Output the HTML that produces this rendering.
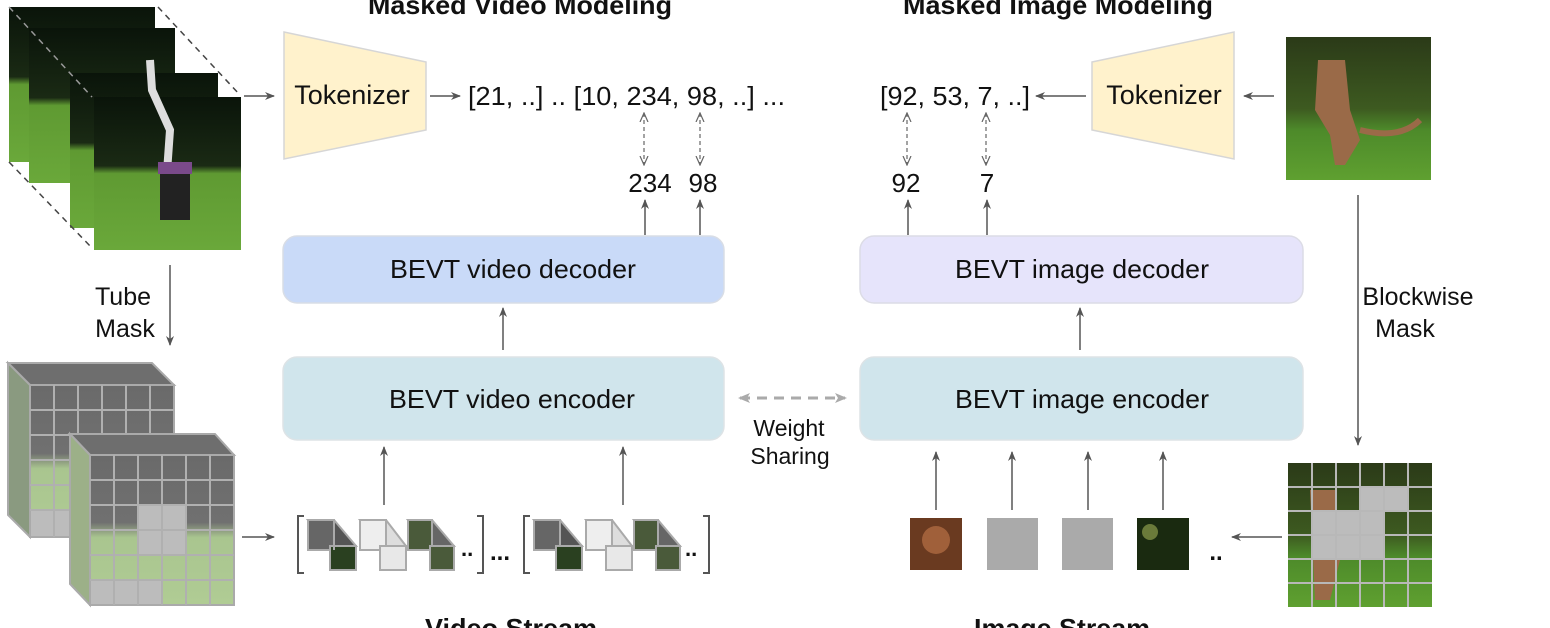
<!DOCTYPE html>
<html><head><meta charset="utf-8"><style>
html,body{margin:0;padding:0;background:#fff;}
svg{display:block;}
text{font-family:"Liberation Sans",Arial,sans-serif;fill:#111;}
</style></head><body>
<svg width="1550" height="628" viewBox="0 0 1550 628" xmlns="http://www.w3.org/2000/svg">
<defs>
<marker id="ah" markerWidth="10" markerHeight="10" refX="9" refY="5" orient="auto" markerUnits="userSpaceOnUse"><path d="M0,1 L10,5 L0,9 L3,5 z" fill="#555"/></marker>
<marker id="ahg" markerWidth="12" markerHeight="12" refX="10" refY="6" orient="auto-start-reverse" markerUnits="userSpaceOnUse"><path d="M0,1 L12,6 L0,11 L3,6 z" fill="#aaa"/></marker>
<marker id="ahs" markerWidth="10" markerHeight="10" refX="9" refY="5" orient="auto-start-reverse" markerUnits="userSpaceOnUse"><path d="M0,1 L9,5 L0,9" fill="none" stroke="#666" stroke-width="1.2"/></marker>
<linearGradient id="ph" x1="0" y1="0" x2="0" y2="1"><stop offset="0" stop-color="#0a140a"/><stop offset="0.45" stop-color="#1a2a14"/><stop offset="0.5" stop-color="#5f9a32"/><stop offset="1" stop-color="#6aa83a"/></linearGradient>
<linearGradient id="phm" x1="0" y1="0" x2="0" y2="1"><stop offset="0" stop-color="#6a6a6a"/><stop offset="0.45" stop-color="#707070"/><stop offset="0.55" stop-color="#a9c58f"/><stop offset="1" stop-color="#b0cc94"/></linearGradient>
<linearGradient id="cat" x1="0" y1="0" x2="0" y2="1"><stop offset="0" stop-color="#2b3a18"/><stop offset="0.5" stop-color="#3d5a20"/><stop offset="0.65" stop-color="#4d8a2a"/><stop offset="1" stop-color="#5fa030"/></linearGradient>
</defs>

<!-- titles -->
<text x="520" y="14" font-size="26" font-weight="bold" text-anchor="middle" textLength="304" lengthAdjust="spacingAndGlyphs">Masked Video Modeling</text>
<text x="1058" y="14" font-size="26" font-weight="bold" text-anchor="middle" textLength="310" lengthAdjust="spacingAndGlyphs">Masked Image Modeling</text>
<text x="511" y="637" font-size="26" font-weight="bold" text-anchor="middle" textLength="172" lengthAdjust="spacingAndGlyphs">Video Stream</text>
<text x="1062" y="637" font-size="26" font-weight="bold" text-anchor="middle" textLength="176" lengthAdjust="spacingAndGlyphs">Image Stream</text>

<!-- video frames -->
<rect x="9" y="7" width="146" height="155" fill="url(#ph)"/>
<rect x="29" y="28" width="146" height="155" fill="url(#ph)"/>
<rect x="70" y="73" width="148" height="155" fill="url(#ph)"/>
<rect x="94" y="97" width="147" height="153" fill="url(#ph)"/>
<path d="M150,60 L152,90 L170,130 L165,200" stroke="#ddd" stroke-width="8" fill="none"/>
<rect x="160" y="165" width="30" height="55" fill="#222"/>
<rect x="158" y="162" width="34" height="12" fill="#7a4a8a"/>
<line x1="158" y1="7" x2="240" y2="95" stroke="#444" stroke-width="1.5" stroke-dasharray="6,5"/>
<line x1="9" y1="162" x2="92" y2="248" stroke="#444" stroke-width="1.5" stroke-dasharray="6,5"/>
<line x1="9" y1="7" x2="92" y2="97" stroke="#999" stroke-width="1.5" stroke-dasharray="6,5"/>

<!-- tokenizer left -->
<line x1="244" y1="96" x2="274" y2="96" stroke="#555" stroke-width="1.5" marker-end="url(#ah)"/>
<polygon points="284,32 426,62 426,130 284,159" fill="#fff2cc" stroke="#d6d6d6" stroke-width="1.5"/>
<text x="352" y="104" font-size="27" text-anchor="middle">Tokenizer</text>
<line x1="430" y1="96" x2="460" y2="96" stroke="#555" stroke-width="1.5" marker-end="url(#ah)"/>
<text x="468" y="105" font-size="26" textLength="317" lengthAdjust="spacingAndGlyphs">[21, ..] .. [10, 234, 98, ..] ...</text>

<line x1="644" y1="113" x2="644" y2="165" stroke="#666" stroke-width="1.2" stroke-dasharray="4,3" marker-start="url(#ahs)" marker-end="url(#ahs)"/>
<line x1="700" y1="113" x2="700" y2="165" stroke="#666" stroke-width="1.2" stroke-dasharray="4,3" marker-start="url(#ahs)" marker-end="url(#ahs)"/>
<text x="650" y="192" font-size="26" text-anchor="middle">234</text>
<text x="703" y="192" font-size="26" text-anchor="middle">98</text>
<line x1="645" y1="235" x2="645" y2="200" stroke="#555" stroke-width="1.5" marker-end="url(#ah)"/>
<line x1="700" y1="235" x2="700" y2="200" stroke="#555" stroke-width="1.5" marker-end="url(#ah)"/>

<rect x="283" y="236" width="441" height="67" rx="14" fill="#c9daf8" stroke="#d8dde6" stroke-width="1.5"/>
<text x="513" y="278" font-size="26" text-anchor="middle" textLength="246" lengthAdjust="spacingAndGlyphs">BEVT video decoder</text>
<line x1="503" y1="350" x2="503" y2="308" stroke="#555" stroke-width="1.5" marker-end="url(#ah)"/>
<rect x="283" y="357" width="441" height="83" rx="14" fill="#d0e5ec" stroke="#dde3e6" stroke-width="1.5"/>
<text x="512" y="408" font-size="26" text-anchor="middle" textLength="246" lengthAdjust="spacingAndGlyphs">BEVT video encoder</text>
<line x1="384" y1="505" x2="384" y2="447" stroke="#555" stroke-width="1.5" marker-end="url(#ah)"/>
<line x1="623" y1="505" x2="623" y2="447" stroke="#555" stroke-width="1.5" marker-end="url(#ah)"/>

<!-- weight sharing -->
<line x1="740" y1="398" x2="845" y2="398" stroke="#aaa" stroke-width="3" stroke-dasharray="10,7" marker-start="url(#ahg)" marker-end="url(#ahg)"/>
<text x="789" y="436" font-size="23" text-anchor="middle" fill="#222">Weight</text>
<text x="790" y="464" font-size="23" text-anchor="middle" fill="#222">Sharing</text>

<!-- right side -->
<rect x="860" y="236" width="443" height="67" rx="14" fill="#e6e4fb" stroke="#dcdce6" stroke-width="1.5"/>
<text x="1082" y="278" font-size="26" text-anchor="middle" textLength="254" lengthAdjust="spacingAndGlyphs">BEVT image decoder</text>
<line x1="1080" y1="350" x2="1080" y2="308" stroke="#555" stroke-width="1.5" marker-end="url(#ah)"/>
<rect x="860" y="357" width="443" height="83" rx="14" fill="#d0e5ec" stroke="#dde3e6" stroke-width="1.5"/>
<text x="1082" y="408" font-size="26" text-anchor="middle" textLength="254" lengthAdjust="spacingAndGlyphs">BEVT image encoder</text>
<line x1="908" y1="235" x2="908" y2="200" stroke="#555" stroke-width="1.5" marker-end="url(#ah)"/>
<line x1="987" y1="235" x2="987" y2="200" stroke="#555" stroke-width="1.5" marker-end="url(#ah)"/>
<text x="906" y="192" font-size="26" text-anchor="middle">92</text>
<text x="987" y="192" font-size="26" text-anchor="middle">7</text>
<line x1="907" y1="113" x2="907" y2="165" stroke="#666" stroke-width="1.2" stroke-dasharray="4,3" marker-start="url(#ahs)" marker-end="url(#ahs)"/>
<line x1="986" y1="113" x2="986" y2="165" stroke="#666" stroke-width="1.2" stroke-dasharray="4,3" marker-start="url(#ahs)" marker-end="url(#ahs)"/>
<text x="880" y="105" font-size="26" textLength="150" lengthAdjust="spacingAndGlyphs">[92, 53, 7, ..]</text>
<line x1="1086" y1="96" x2="1036" y2="96" stroke="#555" stroke-width="1.5" marker-end="url(#ah)"/>
<polygon points="1092,62 1234,32 1234,159 1092,130" fill="#fff2cc" stroke="#d6d6d6" stroke-width="1.5"/>
<text x="1164" y="104" font-size="27" text-anchor="middle">Tokenizer</text>
<line x1="1274" y1="96" x2="1244" y2="96" stroke="#555" stroke-width="1.5" marker-end="url(#ah)"/>

<!-- cat -->
<rect x="1286" y="37" width="145" height="143" fill="url(#cat)"/>
<path d="M1318,60 L1345,60 L1350,110 L1360,140 L1345,165 L1335,165 L1330,135 L1315,110 z" fill="#9a6a48"/>
<path d="M1360,130 Q1400,140 1420,120" stroke="#9a6a48" stroke-width="6" fill="none"/>

<line x1="1358" y1="195" x2="1358" y2="445" stroke="#555" stroke-width="1.5" marker-end="url(#ah)"/>
<text x="1418" y="305" font-size="25" text-anchor="middle">Blockwise</text>
<text x="1405" y="337" font-size="25" text-anchor="middle">Mask</text>

<!-- masked cat -->
<rect x="1288" y="463" width="144" height="144" fill="url(#cat)"/>
<path d="M1310,490 L1335,490 L1340,560 L1330,600 L1315,600 z" fill="#9a6a48"/>
<g fill="#bcbcbc">
<rect x="1360" y="487" width="48" height="24"/>
<rect x="1312" y="511" width="72" height="48"/>
</g>
<g stroke="#b8b8b8" stroke-width="2">
<line x1="1312" y1="463" x2="1312" y2="607"/><line x1="1336" y1="463" x2="1336" y2="607"/><line x1="1360" y1="463" x2="1360" y2="607"/><line x1="1384" y1="463" x2="1384" y2="607"/><line x1="1408" y1="463" x2="1408" y2="607"/>
<line x1="1288" y1="487" x2="1432" y2="487"/><line x1="1288" y1="511" x2="1432" y2="511"/><line x1="1288" y1="535" x2="1432" y2="535"/><line x1="1288" y1="559" x2="1432" y2="559"/><line x1="1288" y1="583" x2="1432" y2="583"/>
</g>
<line x1="1282" y1="537" x2="1232" y2="537" stroke="#555" stroke-width="1.5" marker-end="url(#ah)"/>
<text x="1216" y="560" font-size="24" font-weight="bold" text-anchor="middle">..</text>

<!-- image patches -->
<rect x="910" y="518" width="52" height="52" fill="#6a3a20"/>
<circle cx="936" cy="540" r="14" fill="#a0603a"/>
<rect x="987" y="518" width="51" height="52" fill="#aaa"/>
<rect x="1062" y="518" width="51" height="52" fill="#aaa"/>
<rect x="1137" y="518" width="52" height="52" fill="#1a2a10"/>
<circle cx="1150" cy="532" r="8" fill="#6a7a3a"/>
<line x1="936" y1="510" x2="936" y2="452" stroke="#555" stroke-width="1.5" marker-end="url(#ah)"/>
<line x1="1012" y1="510" x2="1012" y2="452" stroke="#555" stroke-width="1.5" marker-end="url(#ah)"/>
<line x1="1088" y1="510" x2="1088" y2="452" stroke="#555" stroke-width="1.5" marker-end="url(#ah)"/>
<line x1="1163" y1="510" x2="1163" y2="452" stroke="#555" stroke-width="1.5" marker-end="url(#ah)"/>

<!-- tube mask -->
<line x1="170" y1="265" x2="170" y2="345" stroke="#555" stroke-width="1.5" marker-end="url(#ah)"/>
<text x="123" y="305" font-size="25" text-anchor="middle">Tube</text>
<text x="125" y="337" font-size="25" text-anchor="middle">Mask</text>

<!-- masked video cube: back -->
<g stroke="#aaa" stroke-width="2">
<polygon points="8,363 152,363 174,385 30,385" fill="#6e6e6e"/>
<polygon points="8,363 30,385 30,537 8,515" fill="#8a9a80"/>
<rect x="30" y="385" width="144" height="152" fill="url(#phm)"/>
<rect x="30" y="510" width="48" height="27" fill="#bcbcbc"/>
<g stroke="#b0b0b0">
<line x1="54" y1="385" x2="54" y2="537"/><line x1="78" y1="385" x2="78" y2="537"/><line x1="102" y1="385" x2="102" y2="537"/><line x1="126" y1="385" x2="126" y2="537"/><line x1="150" y1="385" x2="150" y2="537"/>
<line x1="30" y1="410" x2="174" y2="410"/><line x1="30" y1="435" x2="174" y2="435"/><line x1="30" y1="460" x2="174" y2="460"/><line x1="30" y1="485" x2="174" y2="485"/><line x1="30" y1="510" x2="174" y2="510"/>
</g>
</g>
<!-- front -->
<g stroke="#aaa" stroke-width="2">
<polygon points="70,434 215,434 234,455 90,455" fill="#6e6e6e"/>
<polygon points="70,434 90,455 90,605 70,584" fill="#9cb088"/>
<rect x="90" y="455" width="144" height="150" fill="url(#phm)"/>
<rect x="138" y="505" width="48" height="50" fill="#bcbcbc"/>
<rect x="90" y="580" width="72" height="25" fill="#bcbcbc"/>
<g stroke="#b0b0b0">
<line x1="114" y1="455" x2="114" y2="605"/><line x1="138" y1="455" x2="138" y2="605"/><line x1="162" y1="455" x2="162" y2="605"/><line x1="186" y1="455" x2="186" y2="605"/><line x1="210" y1="455" x2="210" y2="605"/>
<line x1="90" y1="480" x2="234" y2="480"/><line x1="90" y1="505" x2="234" y2="505"/><line x1="90" y1="530" x2="234" y2="530"/><line x1="90" y1="555" x2="234" y2="555"/><line x1="90" y1="580" x2="234" y2="580"/>
</g>
</g>

<line x1="242" y1="537" x2="274" y2="537" stroke="#555" stroke-width="1.5" marker-end="url(#ah)"/>

<!-- token cubes -->
<g stroke="#555" stroke-width="2" fill="none">
<path d="M304,516 L298,516 L298,573 L304,573"/>
<path d="M477,516 L483,516 L483,573 L477,573"/>
<path d="M530,516 L524,516 L524,573 L530,573"/>
<path d="M703,516 L709,516 L709,573 L703,573"/>
</g>
<g stroke="#aaa" stroke-width="2">
<polygon points="308,520 334,520 356,546 330,546" fill="#555"/><rect x="308" y="520" width="26" height="30" fill="#666"/><rect x="330" y="546" width="26" height="24" fill="#2a4020"/><line x1="334" y1="550" x2="334" y2="520"/>
<polygon points="360,520 386,520 406,546 380,546" fill="#ddd"/><rect x="360" y="520" width="26" height="30" fill="#eee"/><rect x="380" y="546" width="26" height="24" fill="#e8e8e8"/>
<polygon points="408,520 432,520 454,546 430,546" fill="#666"/><rect x="408" y="520" width="24" height="30" fill="#4a5a3a"/><rect x="430" y="546" width="24" height="24" fill="#4a5a3a"/>
<polygon points="534,520 560,520 582,546 556,546" fill="#555"/><rect x="534" y="520" width="26" height="30" fill="#666"/><rect x="556" y="546" width="26" height="24" fill="#2a4020"/>
<polygon points="586,520 612,520 632,546 606,546" fill="#ddd"/><rect x="586" y="520" width="26" height="30" fill="#eee"/><rect x="606" y="546" width="26" height="24" fill="#e8e8e8"/>
<polygon points="634,520 658,520 680,546 656,546" fill="#666"/><rect x="634" y="520" width="24" height="30" fill="#4a5a3a"/><rect x="656" y="546" width="24" height="24" fill="#4a5a3a"/>
</g>
<text x="461" y="556" font-size="22" font-weight="bold">..</text>
<text x="490" y="560" font-size="24" font-weight="bold">...</text>
<text x="685" y="556" font-size="22" font-weight="bold">..</text>
</svg>
</body></html>
